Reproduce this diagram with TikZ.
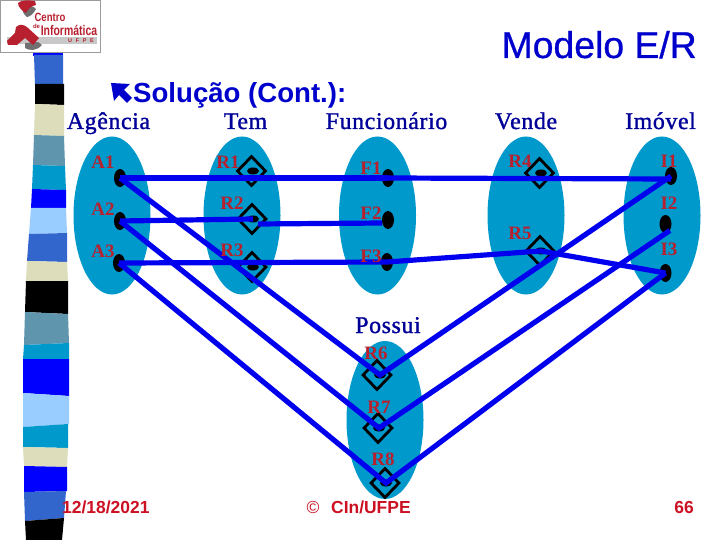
\documentclass[tikz,border=0pt]{standalone}
\usepackage{fontspec}
\setmainfont{Liberation Serif}
\setsansfont{Liberation Sans}
\newfontfamily\hdfont[FakeBold=1.2,LetterSpace=2.5]{Liberation Serif}
\newfontfamily\ttlfont[FakeBold=0.8]{Liberation Sans}
\usetikzlibrary{shapes.geometric}
\definecolor{ttl}{HTML}{0000CC}
\definecolor{hdr}{HTML}{000099}
\definecolor{lbl}{HTML}{B8202E}
\definecolor{foot}{HTML}{CC1122}
\definecolor{teal}{HTML}{0099CC}
\definecolor{lineb}{HTML}{0000EE}
\definecolor{sb}{HTML}{3366CC}
\definecolor{sbeige}{HTML}{DDDDBB}
\definecolor{ssteel}{HTML}{5F96AE}
\definecolor{slight}{HTML}{99CCFF}
\definecolor{lgray}{HTML}{C8C8C8}
\definecolor{lgray2}{HTML}{707070}
\definecolor{lred}{HTML}{B82030}
\tikzset{
  set/.style={ellipse,fill=teal,minimum width=77bp,minimum height=158bp,inner sep=0pt},
  ent/.style={ellipse,fill=black,minimum width=12bp,minimum height=18bp,inner sep=0pt},
  rdot/.style={ellipse,fill=black,minimum width=12bp,minimum height=7bp,inner sep=0pt},
  rel/.style={diamond,draw=black,line width=2.8bp,minimum width=29bp,minimum height=30bp,inner sep=0pt},
  hd/.style={text=hdr,font=\hdfont\fontsize{24}{26}\selectfont,inner sep=0pt,anchor=base},
  lab/.style={text=lbl,font=\bfseries\fontsize{19}{22}\selectfont,inner sep=0pt},
  ft/.style={text=foot,font=\sffamily\bfseries\fontsize{17.5}{20}\selectfont,inner sep=0pt},
  link/.style={draw=lineb,line width=5.2bp}
}
\begin{document}
\begin{tikzpicture}[x=1bp,y=-1bp]
\useasboundingbox (0,0) rectangle (720,540);
\fill[white] (0,0) rectangle (720,540);
% side stripe
\fill[blue] (33,52) rectangle (63,56);
\fill[sb] (34,55) -- (63,55) -- (63,84) -- (35,85) -- cycle;
\fill[black] (35,84) -- (64,84) -- (64,105) -- (35,104) -- cycle;
\fill[sbeige] (35,104) -- (64,105) -- (64,136) -- (34,135) -- cycle;
\fill[ssteel] (34,135) -- (64,136) -- (65,166) -- (33,165) -- cycle;
\fill[teal] (33,165) -- (65,166) -- (66,190) -- (32,189) -- cycle;
\fill[blue] (32,189) -- (66,190) -- (66,208) -- (31,208) -- cycle;
\fill[slight] (31,208) -- (66,208) -- (67,233) -- (29,234) -- cycle;
\fill[sb] (29,234) -- (67,233) -- (67,262) -- (27,261) -- cycle;
\fill[sbeige] (27,261) -- (67,262) -- (68,281) -- (26,281) -- cycle;
\fill[black] (26,281) -- (68,281) -- (68,314) -- (25,312) -- cycle;
\fill[ssteel] (25,312) -- (68,314) -- (69,343) -- (24,345) -- cycle;
\fill[teal] (24,345) -- (69,343) -- (69,359) -- (23,359) -- cycle;
\fill[blue] (23,359) -- (69,359) -- (69,396) -- (23,393) -- cycle;
\fill[slight] (23,393) -- (69,396) -- (69,424) -- (23,427) -- cycle;
\fill[teal] (23,427) -- (68,424) -- (68,448) -- (23,447) -- cycle;
\fill[sbeige] (23,447) -- (68,448) -- (67,467) -- (24,466) -- cycle;
\fill[blue] (24,466) -- (67,467) -- (67,491) -- (24,492) -- cycle;
\fill[sb] (24,492) -- (66,491) -- (64,518) -- (25,521) -- cycle;
\fill[black] (25,521) -- (64,518) -- (62,540) -- (26,540) -- cycle;
% logo
\draw[fill=white,draw=lgray2!70,line width=.7bp] (0,0) rectangle (100.5,52);
\fill[lgray] (7,37) rectangle (97,44);
\fill[lgray2] (23,8) .. controls (27,4) and (34,6) .. (36,9) .. controls (34,13) and (30,17) .. (27,17) .. controls (24,15) and (22,11) .. (23,8) -- cycle;
\fill[lred] (18,3) .. controls (21,0) and (28,0) .. (35,1) -- (36,5) .. controls (31,6) and (28,9) .. (26,13) .. controls (22,11) and (18,7) .. (18,3) -- cycle;
\fill[lgray2] (25,43) -- (38,42) -- (42,45) .. controls (37,51) and (29,51) .. (25,48) -- cycle;
\fill[lred] (7,41) -- (15,33) -- (16,27) .. controls (20,23) and (25,25) .. (28,28) -- (39,38) -- (33,45) -- (25,38) -- (17,45) -- (8,45) -- cycle;
\node[inner sep=0pt,text=lred,xscale=.8] (logoa) at (50,17.5) {\sffamily\bfseries\fontsize{12}{13}\selectfont Centro};
\node[inner sep=0pt,text=lred,xscale=.75] (logob) at (69,30.5) {\sffamily\bfseries\fontsize{14}{15}\selectfont Informática};
\node[inner sep=0pt,text=lred] (logoc) at (36.5,26.5) {\sffamily\bfseries\fontsize{6}{7}\selectfont de};
\node[inner sep=0pt,text=lred] (logod) at (81,40.5) {\sffamily\bfseries\fontsize{5.5}{6}\selectfont U\,\,\,\,F\,\,\,\,P\,\,\,\,E};
% titles
\node[inner sep=0pt,anchor=base east,text=ttl,font=\ttlfont\fontsize{37.5}{40}\selectfont] (title) at (697,58) {Modelo E/R};
\fill[ttl] (111,83) -- (130,84) -- (124,90) -- (132,98) -- (127,103) -- (119,95) -- (114,101) -- cycle;
\node[inner sep=0pt,anchor=base west,text=ttl,font=\sffamily\bfseries\fontsize{27.7}{30}\selectfont] (sub) at (133,103) {Solução (Cont.):};
% headers
\node[hd] (hA) at (108.5,129) {Agência};
\node[hd] (hT) at (245.5,129) {Tem};
\node[hd] (hF) at (386.5,129) {Funcionário};
\node[hd] (hV) at (526,129) {Vende};
\node[hd] (hI) at (660.5,129) {Imóvel};
\node[hd] (hP) at (388,333) {Possui};
% sets
\node[set] (sA) at (112,215.5) {};
\node[set] (sT) at (242,215.5) {};
\node[set] (sF) at (377.5,215.5) {};
\node[set] (sV) at (526,215.5) {};
\node[set] (sI) at (662,215.5) {};
\node[set] (sP) at (385,420) {};
% diamonds
\node[rel] (dR1) at (251.5,171) {};
\node[rel] (dR2) at (252,219) {};
\node[rel] (dR3) at (252,267) {};
\node[rel] (dR4) at (539.5,173) {};
\node[rel] (dR5) at (540,251) {};
\node[rel] (dR6) at (377,375) {};
\node[rel] (dR7) at (378,428) {};
\node[rel] (dR8) at (385,483) {};
% relationship dots
\node[rdot] (R1) at (253,171) {};
\node[rdot] (R2) at (253,219) {};
\node[rdot] (R3) at (253,267) {};
\node[rdot] (R4) at (541,173) {};
\node[rdot] (R5) at (541,251) {};
\node[rdot] (R6) at (380,375) {};
\node[rdot] (R7) at (379,428) {};
\node[rdot] (R8) at (386,483) {};
% entity dots
\node[ent] (A1) at (120,178) {};
\node[ent] (A2) at (120,221) {};
\node[ent] (A3) at (119,263) {};
\node[ent] (F1) at (388,178) {};
\node[ent] (F2) at (388,220) {};
\node[ent] (F3) at (387,262) {};
\node[ent] (I1) at (671,176) {};
\node[ent] (I2) at (665.5,224) {};
\node[ent] (I3) at (665.5,273) {};
\coordinate (I1e) at (671,179);
\coordinate (F2e) at (382,223);
\coordinate (R2e) at (258,224);
% connectors
\draw[link] (A1.center) -- (F1.center);
\draw[link] (F1.center) -- (I1e);
\draw[link] (A2.center) -- (R2.center);
\draw[link] (R2e) -- (F2e);
\draw[link] (A3.center) -- (F3.center);
\draw[link] (F3.center) -- (R5.center) -- (I3.center);
\draw[link] (A1.center) -- (R6.center) -- (I1.center);
\draw[link] (A2.center) -- (R7.center) -- (I2.south east);
\draw[link] (A3.center) -- (R8.center) -- (I3.center);
% labels
\node[lab] (lA1) at (103,162) {A1};
\node[lab] (lA2) at (103,209) {A2};
\node[lab] (lA3) at (103,251) {A3};
\node[lab] (lR1) at (228,162) {R1};
\node[lab] (lR2) at (232,203) {R2};
\node[lab] (lR3) at (232,250) {R3};
\node[lab] (lF1) at (371,168) {F1};
\node[lab] (lF2) at (371,213) {F2};
\node[lab] (lF3) at (371,256) {F3};
\node[lab] (lR4) at (520,161) {R4};
\node[lab] (lR5) at (520,233) {R5};
\node[lab] (lI1) at (669,161) {I1};
\node[lab] (lI2) at (669,203) {I2};
\node[lab] (lI3) at (669,249) {I3};
\node[lab] (lR6) at (376,353) {R6};
\node[lab] (lR7) at (379,407) {R7};
\node[lab] (lR8) at (383,459) {R8};
% footer
\node[ft,anchor=base west] (fd) at (62,513) {12/18/2021};
\node[ft,anchor=base] (fc) at (313,513) {\mdseries ©};
\node[ft,anchor=base west] (fu) at (331,513) {CIn/UFPE};
\node[ft,anchor=base east] (fn) at (694,513) {66};
\end{tikzpicture}
\end{document}
